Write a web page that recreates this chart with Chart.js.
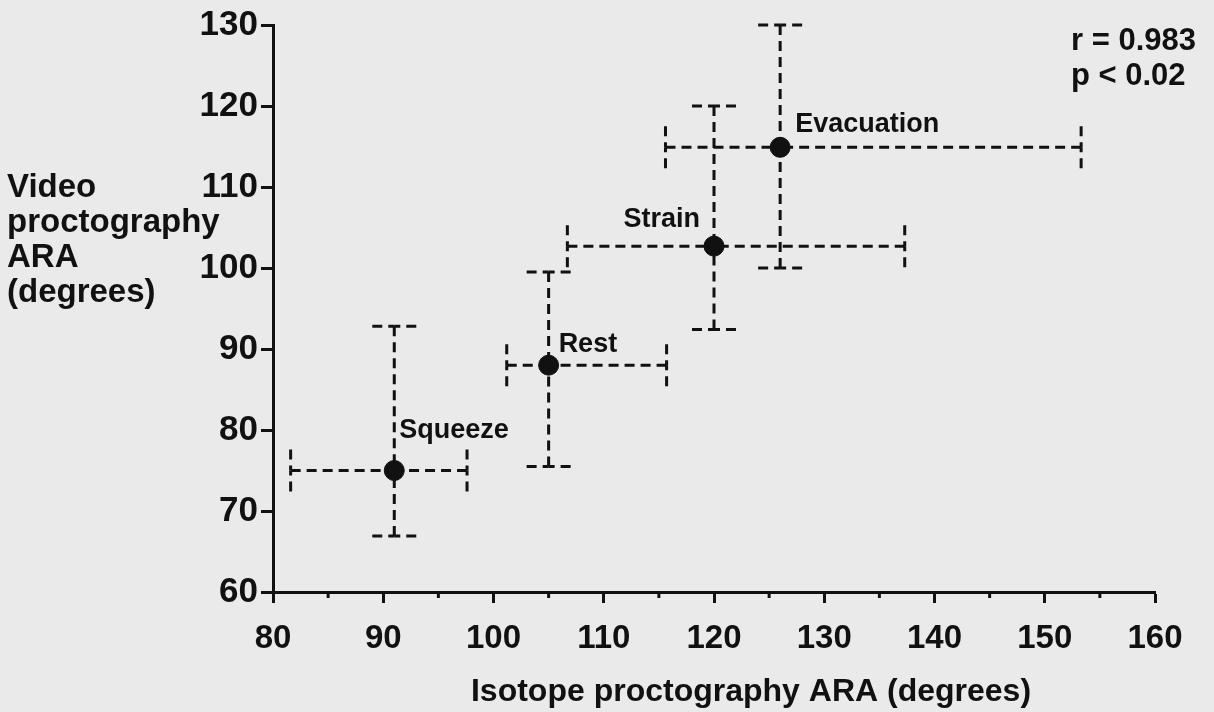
<!DOCTYPE html>
<html>
<head>
<meta charset="utf-8">
<title>Video vs isotope proctography ARA</title>
<script src="https://cdn.jsdelivr.net/npm/chart.js@4.4.1/dist/chart.umd.min.js"></script>
<style>
  html, body { margin: 0; padding: 0; background: #eaeaea; }
  #wrap { position: relative; width: 1214px; height: 712px; }
</style>
</head>
<body>
<div id="wrap"><canvas id="araChart" width="1214" height="712"></canvas></div>
<script>
// Data
const categories = ['Squeeze', 'Rest', 'Strain', 'Evacuation'];
const isotopeARA = [91, 105, 120, 126];
const isotopeLow = [81.6, 101.2, 106.7, 115.6];
const isotopeHigh = [97.6, 115.7, 137.3, 153.3];
const videoARA = [75, 88, 102.7, 114.9];
const videoLow = [66.9, 75.5, 92.4, 100];
const videoHigh = [92.8, 99.5, 120, 130];

const xTickValues = [80, 90, 100, 110, 120, 130, 140, 150, 160];
const xMinorTicks = [85, 95, 105, 115, 125, 135, 145, 155];
const yTickValues = [60, 70, 80, 90, 100, 110, 120, 130];

const statsText = ['r = 0.983', 'p < 0.02'];
const yTitleLines = ['Video', 'proctography', 'ARA', '(degrees)'];
const xTitle = 'Isotope proctography ARA (degrees)';

const ink = '#111';
const fontFamily = '"Liberation Sans", Arial, Helvetica, sans-serif';

// where each point label sits relative to its marker (px)
const labelOffsets = [
    { dx: 5, dy: -33, align: 'left' },
    { dx: 10, dy: -13, align: 'left' },
    { dx: -14, dy: -19, align: 'right' },
    { dx: 15, dy: -15, align: 'left' }
];

function dashedLine(ctx, x0, y0, x1, y1) {
    ctx.beginPath();
    ctx.moveTo(x0, y0);
    ctx.lineTo(x1, y1);
    ctx.stroke();
}

// Dashed error bars in both directions, drawn behind the markers
const errorBars = {
    id: 'errorBars',
    beforeDatasetsDraw(chart) {
        const { ctx, scales: { x, y } } = chart;
        const cap = 21;
        ctx.save();
        ctx.strokeStyle = ink;
        ctx.lineWidth = 3;
        ctx.setLineDash([10, 6]);
        categories.forEach((name, i) => {
            const px = x.getPixelForValue(isotopeARA[i]);
            const py = y.getPixelForValue(videoARA[i]);
            const xl = x.getPixelForValue(isotopeLow[i]);
            const xh = x.getPixelForValue(isotopeHigh[i]);
            const yl = y.getPixelForValue(videoLow[i]);
            const yh = y.getPixelForValue(videoHigh[i]);

            dashedLine(ctx, xl, py, px, py);
            dashedLine(ctx, xh, py, px, py);
            dashedLine(ctx, px, yl, px, py);
            dashedLine(ctx, px, yh, px, py);

            // caps, drawn from the ends toward the middle
            [xl, xh].forEach(cx => {
                dashedLine(ctx, cx, py - cap, cx, py);
                dashedLine(ctx, cx, py + cap, cx, py);
            });
            [yl, yh].forEach(cy => {
                dashedLine(ctx, px - cap - 1, cy, px, cy);
                dashedLine(ctx, px + cap + 1, cy, px, cy);
            });
        });
        ctx.restore();
    }
};

// Point labels, stats text, axis titles and minor ticks
const annotations = {
    id: 'annotations',
    afterDraw(chart) {
        const { ctx, chartArea, scales: { x, y } } = chart;
        ctx.save();
        ctx.fillStyle = ink;
        ctx.textBaseline = 'alphabetic';

        ctx.font = 'bold 27px ' + fontFamily;
        categories.forEach((name, i) => {
            const off = labelOffsets[i];
            ctx.textAlign = off.align;
            ctx.fillText(name,
                x.getPixelForValue(isotopeARA[i]) + off.dx,
                y.getPixelForValue(videoARA[i]) + off.dy);
        });

        ctx.font = 'bold 31px ' + fontFamily;
        ctx.textAlign = 'left';
        statsText.forEach((t, i) => ctx.fillText(t, 1071, 50 + i * 35));

        ctx.font = 'bold 33px ' + fontFamily;
        yTitleLines.forEach((t, i) => ctx.fillText(t, 7, 197 + i * 35));

        ctx.font = 'bold 32px ' + fontFamily;
        ctx.textAlign = 'center';
        ctx.fillText(xTitle, 751, 701);

        // short minor ticks on the x axis
        ctx.strokeStyle = ink;
        ctx.lineWidth = 3;
        xMinorTicks.forEach(v => {
            const px = x.getPixelForValue(v);
            ctx.beginPath();
            ctx.moveTo(px, chartArea.bottom);
            ctx.lineTo(px, chartArea.bottom + 6);
            ctx.stroke();
        });
        ctx.restore();
    }
};

document.addEventListener('DOMContentLoaded', function() {
    const ctx = document.getElementById('araChart').getContext('2d');

    new Chart(ctx, {
        type: 'scatter',
        data: {
            datasets: [{
                label: 'ARA',
                data: categories.map((c, i) => ({ x: isotopeARA[i], y: videoARA[i] })),
                backgroundColor: ink,
                borderColor: ink,
                pointRadius: 10,
                pointHoverRadius: 10
            }]
        },
        options: {
            responsive: false,
            animation: false,
            events: [],
            layout: { padding: { top: 25, right: 59, left: 0, bottom: 0 } },
            plugins: {
                legend: { display: false },
                tooltip: { enabled: false }
            },
            scales: {
                x: {
                    type: 'linear',
                    min: 80,
                    max: 160,
                    afterBuildTicks: scale => { scale.ticks = xTickValues.map(v => ({ value: v })); },
                    afterFit: scale => { scale.height = 120; },
                    border: { display: true, color: ink, width: 3 },
                    grid: {
                        drawOnChartArea: false,
                        drawTicks: true,
                        tickLength: 11,
                        tickWidth: 3,
                        tickColor: ink
                    },
                    ticks: {
                        color: ink,
                        padding: 16,
                        maxRotation: 0,
                        font: { family: fontFamily, size: 33, weight: 'bold' }
                    }
                },
                y: {
                    type: 'linear',
                    min: 60,
                    max: 130,
                    afterBuildTicks: scale => { scale.ticks = yTickValues.map(v => ({ value: v })); },
                    afterFit: scale => { scale.width = 273; },
                    border: { display: true, color: ink, width: 3 },
                    grid: {
                        drawOnChartArea: false,
                        drawTicks: true,
                        tickLength: 12,
                        tickWidth: 3,
                        tickColor: ink
                    },
                    ticks: {
                        color: ink,
                        padding: 3,
                        font: { family: fontFamily, size: 35, weight: 'bold' }
                    }
                }
            }
        },
        plugins: [errorBars, annotations]
    });
});
</script>
</body>
</html>
